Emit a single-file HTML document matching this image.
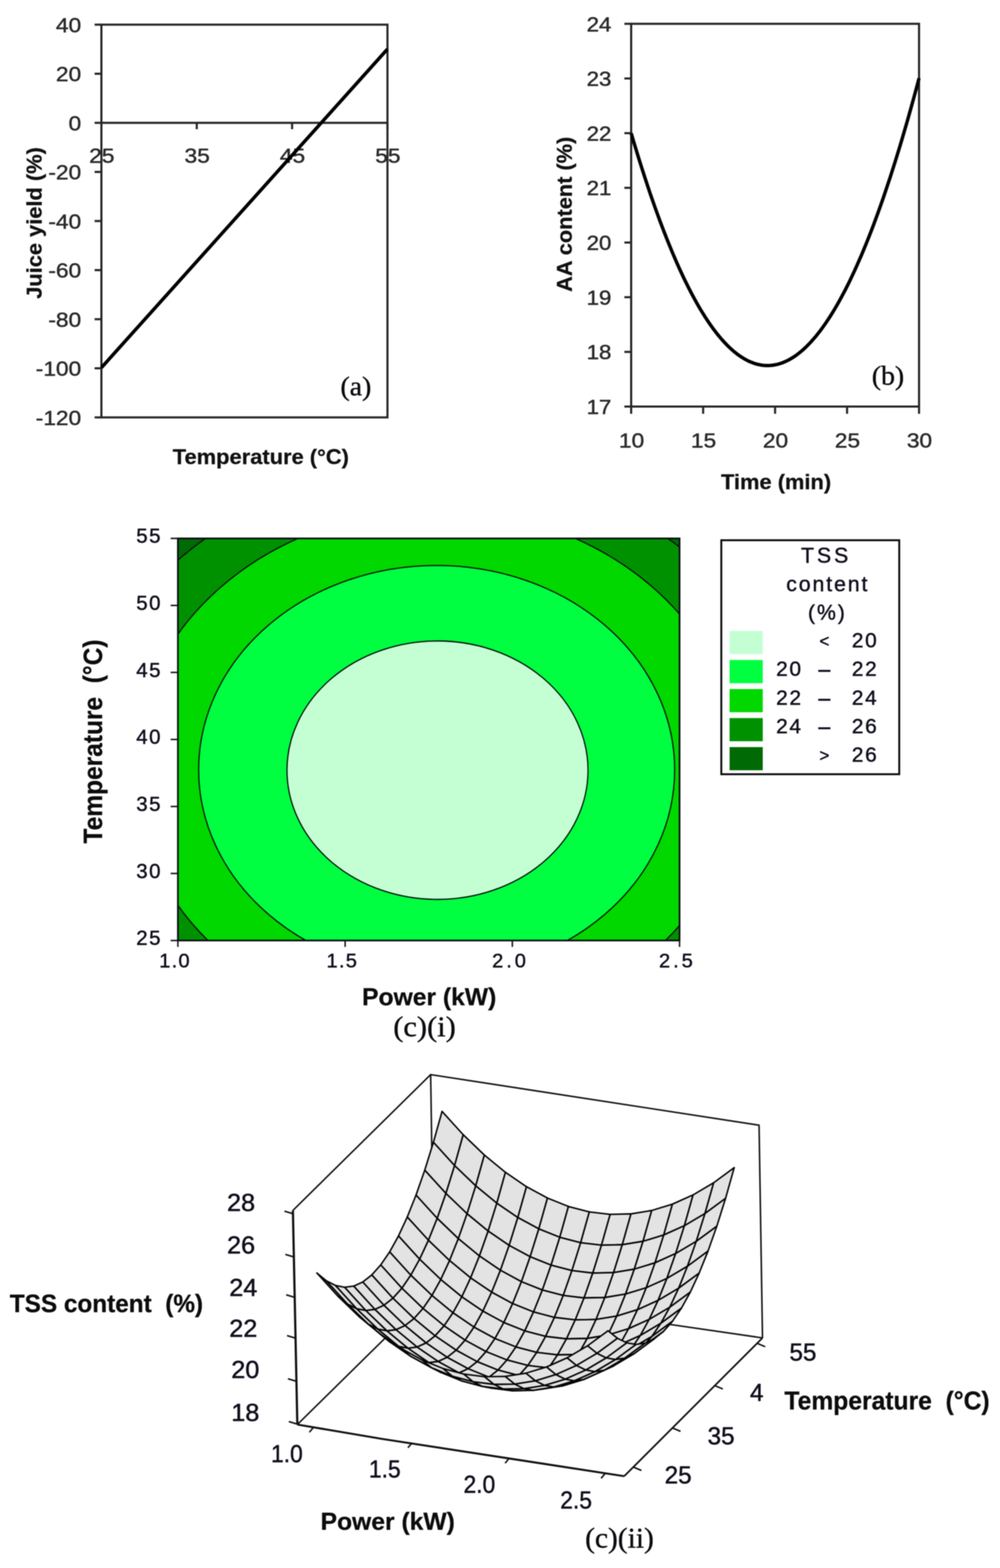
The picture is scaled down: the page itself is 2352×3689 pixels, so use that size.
<!DOCTYPE html>
<html lang="en">
<head>
<meta charset="utf-8">
<title>Figure</title>
<style>
html,body{margin:0;padding:0;background:#fff;}
body{width:2352px;height:3689px;}
svg{display:block;filter:blur(0.9px);}
text{white-space:pre;font-family:"Liberation Sans",sans-serif;}
text.sf{font-family:"Liberation Serif",serif;}
</style>
</head>
<body>
<svg width="2352" height="3689" viewBox="0 0 2352 3689">
<rect width="2352" height="3689" fill="#fff"/>
<rect x="238.5" y="58.0" width="672.8" height="924.0" fill="none" stroke="#262626" stroke-width="5"/>
<line x1="222.5" y1="58.0" x2="238.5" y2="58.0" stroke="#262626" stroke-width="5" stroke-linecap="butt"/>
<text x="0" y="0" font-size="49" text-anchor="end" fill="#2b2b2b" stroke="#2b2b2b" stroke-width="1.0" stroke-linejoin="round" transform="translate(191.0 75.5) scale(1.09 1)" xml:space="preserve" >40</text>
<line x1="222.5" y1="173.5" x2="238.5" y2="173.5" stroke="#262626" stroke-width="5" stroke-linecap="butt"/>
<text x="0" y="0" font-size="49" text-anchor="end" fill="#2b2b2b" stroke="#2b2b2b" stroke-width="1.0" stroke-linejoin="round" transform="translate(191.0 191.0) scale(1.09 1)" xml:space="preserve" >20</text>
<line x1="222.5" y1="289.0" x2="238.5" y2="289.0" stroke="#262626" stroke-width="5" stroke-linecap="butt"/>
<text x="0" y="0" font-size="49" text-anchor="end" fill="#2b2b2b" stroke="#2b2b2b" stroke-width="1.0" stroke-linejoin="round" transform="translate(191.0 306.5) scale(1.09 1)" xml:space="preserve" >0</text>
<line x1="222.5" y1="404.5" x2="238.5" y2="404.5" stroke="#262626" stroke-width="5" stroke-linecap="butt"/>
<text x="0" y="0" font-size="49" text-anchor="end" fill="#2b2b2b" stroke="#2b2b2b" stroke-width="1.0" stroke-linejoin="round" transform="translate(191.0 422.0) scale(1.09 1)" xml:space="preserve" >-20</text>
<line x1="222.5" y1="520.0" x2="238.5" y2="520.0" stroke="#262626" stroke-width="5" stroke-linecap="butt"/>
<text x="0" y="0" font-size="49" text-anchor="end" fill="#2b2b2b" stroke="#2b2b2b" stroke-width="1.0" stroke-linejoin="round" transform="translate(191.0 537.5) scale(1.09 1)" xml:space="preserve" >-40</text>
<line x1="222.5" y1="635.5" x2="238.5" y2="635.5" stroke="#262626" stroke-width="5" stroke-linecap="butt"/>
<text x="0" y="0" font-size="49" text-anchor="end" fill="#2b2b2b" stroke="#2b2b2b" stroke-width="1.0" stroke-linejoin="round" transform="translate(191.0 653.0) scale(1.09 1)" xml:space="preserve" >-60</text>
<line x1="222.5" y1="751.0" x2="238.5" y2="751.0" stroke="#262626" stroke-width="5" stroke-linecap="butt"/>
<text x="0" y="0" font-size="49" text-anchor="end" fill="#2b2b2b" stroke="#2b2b2b" stroke-width="1.0" stroke-linejoin="round" transform="translate(191.0 768.5) scale(1.09 1)" xml:space="preserve" >-80</text>
<line x1="222.5" y1="866.5" x2="238.5" y2="866.5" stroke="#262626" stroke-width="5" stroke-linecap="butt"/>
<text x="0" y="0" font-size="49" text-anchor="end" fill="#2b2b2b" stroke="#2b2b2b" stroke-width="1.0" stroke-linejoin="round" transform="translate(191.0 884.0) scale(1.09 1)" xml:space="preserve" >-100</text>
<line x1="222.5" y1="982.0" x2="238.5" y2="982.0" stroke="#262626" stroke-width="5" stroke-linecap="butt"/>
<text x="0" y="0" font-size="49" text-anchor="end" fill="#2b2b2b" stroke="#2b2b2b" stroke-width="1.0" stroke-linejoin="round" transform="translate(191.0 999.5) scale(1.09 1)" xml:space="preserve" >-120</text>
<line x1="238.5" y1="289.0" x2="911.3" y2="289.0" stroke="#262626" stroke-width="5" stroke-linecap="butt"/>
<line x1="238.5" y1="289.0" x2="238.5" y2="304.0" stroke="#262626" stroke-width="5" stroke-linecap="butt"/>
<text x="0" y="0" font-size="49" text-anchor="middle" fill="#2b2b2b" stroke="#2b2b2b" stroke-width="1.0" stroke-linejoin="round" transform="translate(239.5 383.0) scale(1.09 1)" xml:space="preserve" >25</text>
<line x1="462.8" y1="289.0" x2="462.8" y2="304.0" stroke="#262626" stroke-width="5" stroke-linecap="butt"/>
<text x="0" y="0" font-size="49" text-anchor="middle" fill="#2b2b2b" stroke="#2b2b2b" stroke-width="1.0" stroke-linejoin="round" transform="translate(463.8 383.0) scale(1.09 1)" xml:space="preserve" >35</text>
<line x1="687.0" y1="289.0" x2="687.0" y2="304.0" stroke="#262626" stroke-width="5" stroke-linecap="butt"/>
<text x="0" y="0" font-size="49" text-anchor="middle" fill="#2b2b2b" stroke="#2b2b2b" stroke-width="1.0" stroke-linejoin="round" transform="translate(688.0 383.0) scale(1.09 1)" xml:space="preserve" >45</text>
<line x1="911.3" y1="289.0" x2="911.3" y2="304.0" stroke="#262626" stroke-width="5" stroke-linecap="butt"/>
<text x="0" y="0" font-size="49" text-anchor="middle" fill="#2b2b2b" stroke="#2b2b2b" stroke-width="1.0" stroke-linejoin="round" transform="translate(912.3 383.0) scale(1.09 1)" xml:space="preserve" >55</text>
<line x1="238.5" y1="865" x2="911.3" y2="115.5" stroke="#000" stroke-width="8"/>
<text x="0" y="0" font-size="50" text-anchor="middle" fill="#111" font-weight="bold" stroke="#111" stroke-width="0.6" stroke-linejoin="round" transform="translate(98.0 524.6) rotate(-90) scale(1.028 1)" xml:space="preserve" >Juice yield (%)</text>
<text x="0" y="0" font-size="49.5" text-anchor="middle" fill="#111" font-weight="bold" stroke="#111" stroke-width="0.6" stroke-linejoin="round" transform="translate(613.5 1092.0) scale(1.04 1)" xml:space="preserve" >Temperature (°C)</text>
<text x="0" y="0" class="sf" font-size="63" text-anchor="middle" fill="#0c0c10" stroke="#0c0c10" stroke-width="0.9" stroke-linejoin="round" transform="translate(837.0 930.0) scale(1.04 1)" xml:space="preserve" >(a)</text>
<rect x="1484.5" y="56.0" width="677.1" height="900.5" fill="none" stroke="#262626" stroke-width="5"/>
<line x1="1468.5" y1="56.0" x2="1484.5" y2="56.0" stroke="#262626" stroke-width="5" stroke-linecap="butt"/>
<text x="0" y="0" font-size="49" text-anchor="end" fill="#2b2b2b" stroke="#2b2b2b" stroke-width="1.0" stroke-linejoin="round" transform="translate(1438.0 73.5) scale(1.07 1)" xml:space="preserve" >24</text>
<line x1="1468.5" y1="184.6" x2="1484.5" y2="184.6" stroke="#262626" stroke-width="5" stroke-linecap="butt"/>
<text x="0" y="0" font-size="49" text-anchor="end" fill="#2b2b2b" stroke="#2b2b2b" stroke-width="1.0" stroke-linejoin="round" transform="translate(1438.0 202.1) scale(1.07 1)" xml:space="preserve" >23</text>
<line x1="1468.5" y1="313.3" x2="1484.5" y2="313.3" stroke="#262626" stroke-width="5" stroke-linecap="butt"/>
<text x="0" y="0" font-size="49" text-anchor="end" fill="#2b2b2b" stroke="#2b2b2b" stroke-width="1.0" stroke-linejoin="round" transform="translate(1438.0 330.8) scale(1.07 1)" xml:space="preserve" >22</text>
<line x1="1468.5" y1="441.9" x2="1484.5" y2="441.9" stroke="#262626" stroke-width="5" stroke-linecap="butt"/>
<text x="0" y="0" font-size="49" text-anchor="end" fill="#2b2b2b" stroke="#2b2b2b" stroke-width="1.0" stroke-linejoin="round" transform="translate(1438.0 459.4) scale(1.07 1)" xml:space="preserve" >21</text>
<line x1="1468.5" y1="570.6" x2="1484.5" y2="570.6" stroke="#262626" stroke-width="5" stroke-linecap="butt"/>
<text x="0" y="0" font-size="49" text-anchor="end" fill="#2b2b2b" stroke="#2b2b2b" stroke-width="1.0" stroke-linejoin="round" transform="translate(1438.0 588.1) scale(1.07 1)" xml:space="preserve" >20</text>
<line x1="1468.5" y1="699.2" x2="1484.5" y2="699.2" stroke="#262626" stroke-width="5" stroke-linecap="butt"/>
<text x="0" y="0" font-size="49" text-anchor="end" fill="#2b2b2b" stroke="#2b2b2b" stroke-width="1.0" stroke-linejoin="round" transform="translate(1438.0 716.7) scale(1.07 1)" xml:space="preserve" >19</text>
<line x1="1468.5" y1="827.9" x2="1484.5" y2="827.9" stroke="#262626" stroke-width="5" stroke-linecap="butt"/>
<text x="0" y="0" font-size="49" text-anchor="end" fill="#2b2b2b" stroke="#2b2b2b" stroke-width="1.0" stroke-linejoin="round" transform="translate(1438.0 845.4) scale(1.07 1)" xml:space="preserve" >18</text>
<line x1="1468.5" y1="956.5" x2="1484.5" y2="956.5" stroke="#262626" stroke-width="5" stroke-linecap="butt"/>
<text x="0" y="0" font-size="49" text-anchor="end" fill="#2b2b2b" stroke="#2b2b2b" stroke-width="1.0" stroke-linejoin="round" transform="translate(1438.0 974.0) scale(1.07 1)" xml:space="preserve" >17</text>
<line x1="1484.5" y1="956.5" x2="1484.5" y2="973.5" stroke="#262626" stroke-width="5" stroke-linecap="butt"/>
<text x="0" y="0" font-size="49" text-anchor="middle" fill="#2b2b2b" stroke="#2b2b2b" stroke-width="1.0" stroke-linejoin="round" transform="translate(1485.5 1052.5) scale(1.09 1)" xml:space="preserve" >10</text>
<line x1="1653.8" y1="956.5" x2="1653.8" y2="973.5" stroke="#262626" stroke-width="5" stroke-linecap="butt"/>
<text x="0" y="0" font-size="49" text-anchor="middle" fill="#2b2b2b" stroke="#2b2b2b" stroke-width="1.0" stroke-linejoin="round" transform="translate(1654.8 1052.5) scale(1.09 1)" xml:space="preserve" >15</text>
<line x1="1823.0" y1="956.5" x2="1823.0" y2="973.5" stroke="#262626" stroke-width="5" stroke-linecap="butt"/>
<text x="0" y="0" font-size="49" text-anchor="middle" fill="#2b2b2b" stroke="#2b2b2b" stroke-width="1.0" stroke-linejoin="round" transform="translate(1824.0 1052.5) scale(1.09 1)" xml:space="preserve" >20</text>
<line x1="1992.3" y1="956.5" x2="1992.3" y2="973.5" stroke="#262626" stroke-width="5" stroke-linecap="butt"/>
<text x="0" y="0" font-size="49" text-anchor="middle" fill="#2b2b2b" stroke="#2b2b2b" stroke-width="1.0" stroke-linejoin="round" transform="translate(1993.3 1052.5) scale(1.09 1)" xml:space="preserve" >25</text>
<line x1="2161.6" y1="956.5" x2="2161.6" y2="973.5" stroke="#262626" stroke-width="5" stroke-linecap="butt"/>
<text x="0" y="0" font-size="49" text-anchor="middle" fill="#2b2b2b" stroke="#2b2b2b" stroke-width="1.0" stroke-linejoin="round" transform="translate(2162.6 1052.5) scale(1.09 1)" xml:space="preserve" >30</text>
<polyline points="1484.5,313.3 1490.1,332.4 1495.8,351.1 1501.4,369.5 1507.1,387.6 1512.7,405.3 1518.4,422.7 1524.0,439.7 1529.6,456.4 1535.3,472.8 1540.9,488.8 1546.6,504.5 1552.2,519.8 1557.9,534.8 1563.5,549.5 1569.1,563.8 1574.8,577.8 1580.4,591.5 1586.1,604.8 1591.7,617.8 1597.3,630.4 1603.0,642.7 1608.6,654.7 1614.3,666.3 1619.9,677.6 1625.6,688.6 1631.2,699.2 1636.8,709.4 1642.5,719.4 1648.1,729.0 1653.8,738.2 1659.4,747.1 1665.1,755.7 1670.7,763.9 1676.3,771.8 1682.0,779.4 1687.6,786.6 1693.3,793.5 1698.9,800.0 1704.6,806.2 1710.2,812.1 1715.8,817.6 1721.5,822.8 1727.1,827.7 1732.8,832.2 1738.4,836.4 1744.1,840.2 1749.7,843.7 1755.3,846.8 1761.0,849.7 1766.6,852.1 1772.3,854.3 1777.9,856.1 1783.6,857.5 1789.2,858.7 1794.8,859.5 1800.5,859.9 1806.1,860.0 1811.8,859.8 1817.4,859.2 1823.0,858.3 1828.7,857.1 1834.3,855.5 1840.0,853.6 1845.6,851.3 1851.3,848.7 1856.9,845.7 1862.5,842.5 1868.2,838.9 1873.8,834.9 1879.5,830.6 1885.1,826.0 1890.8,821.0 1896.4,815.7 1902.0,810.0 1907.7,804.0 1913.3,797.7 1919.0,791.1 1924.6,784.1 1930.3,776.7 1935.9,769.0 1941.5,761.0 1947.2,752.6 1952.8,744.0 1958.5,734.9 1964.1,725.5 1969.8,715.8 1975.4,705.8 1981.0,695.4 1986.7,684.7 1992.3,673.6 1998.0,662.2 2003.6,650.4 2009.3,638.3 2014.9,625.9 2020.5,613.2 2026.2,600.1 2031.8,586.6 2037.5,572.8 2043.1,558.7 2048.8,544.3 2054.4,529.5 2060.0,514.3 2065.7,498.9 2071.3,483.1 2077.0,466.9 2082.6,450.4 2088.2,433.6 2093.9,416.4 2099.5,398.9 2105.2,381.1 2110.8,362.9 2116.5,344.4 2122.1,325.5 2127.7,306.3 2133.4,286.8 2139.0,266.9 2144.7,246.7 2150.3,226.2 2156.0,205.3 2161.6,184.0" fill="none" stroke="#000" stroke-width="8" stroke-linejoin="round"/>
<text x="0" y="0" font-size="50" text-anchor="middle" fill="#111" font-weight="bold" stroke="#111" stroke-width="0.6" stroke-linejoin="round" transform="translate(1345.0 504.2) rotate(-90) scale(1.024 1)" xml:space="preserve" >AA content (%)</text>
<text x="0" y="0" font-size="49.5" text-anchor="middle" fill="#111" font-weight="bold" stroke="#111" stroke-width="0.6" stroke-linejoin="round" transform="translate(1825.3 1151.0) scale(1.04 1)" xml:space="preserve" >Time (min)</text>
<text x="0" y="0" class="sf" font-size="63.5" text-anchor="middle" fill="#0c0c10" stroke="#0c0c10" stroke-width="0.9" stroke-linejoin="round" transform="translate(2088.5 905.0) scale(1.03 1)" xml:space="preserve" >(b)</text>
<clipPath id="cp"><rect x="418.4" y="1266.7" width="1179.9" height="946.0"/></clipPath>
<rect x="418.4" y="1266.7" width="1179.9" height="946.0" fill="#006a04"/>
<g clip-path="url(#cp)">
<ellipse cx="1027.0" cy="1811.0" rx="845.0" ry="711.0" fill="#009100" stroke="#0a0a0a" stroke-width="2.8"/>
<ellipse cx="1027.0" cy="1811.0" rx="713.0" ry="612.0" fill="#00d800" stroke="#0a0a0a" stroke-width="2.8"/>
<ellipse cx="1027.0" cy="1811.0" rx="559.8" ry="480.6" fill="#00ff40" stroke="#0a0a0a" stroke-width="2.8"/>
<ellipse cx="1029.0" cy="1812.0" rx="354.0" ry="304.0" fill="#c4ffd4" stroke="#0a0a0a" stroke-width="2.8"/>
</g>
<rect x="418.4" y="1266.7" width="1179.9" height="946.0" fill="none" stroke="#0a0a14" stroke-width="4"/>
<line x1="401.4" y1="1266.7" x2="418.4" y2="1266.7" stroke="#15151f" stroke-width="3.5" stroke-linecap="butt"/>
<text x="381.0" y="1277.2" font-size="48" text-anchor="end" fill="#10101e" letter-spacing="3.5" stroke="#10101e" stroke-width="1.0" stroke-linejoin="round" xml:space="preserve" >55</text>
<line x1="401.4" y1="1424.4" x2="418.4" y2="1424.4" stroke="#15151f" stroke-width="3.5" stroke-linecap="butt"/>
<text x="381.0" y="1434.9" font-size="48" text-anchor="end" fill="#10101e" letter-spacing="3.5" stroke="#10101e" stroke-width="1.0" stroke-linejoin="round" xml:space="preserve" >50</text>
<line x1="401.4" y1="1582.0" x2="418.4" y2="1582.0" stroke="#15151f" stroke-width="3.5" stroke-linecap="butt"/>
<text x="381.0" y="1592.5" font-size="48" text-anchor="end" fill="#10101e" letter-spacing="3.5" stroke="#10101e" stroke-width="1.0" stroke-linejoin="round" xml:space="preserve" >45</text>
<line x1="401.4" y1="1739.7" x2="418.4" y2="1739.7" stroke="#15151f" stroke-width="3.5" stroke-linecap="butt"/>
<text x="381.0" y="1750.2" font-size="48" text-anchor="end" fill="#10101e" letter-spacing="3.5" stroke="#10101e" stroke-width="1.0" stroke-linejoin="round" xml:space="preserve" >40</text>
<line x1="401.4" y1="1897.4" x2="418.4" y2="1897.4" stroke="#15151f" stroke-width="3.5" stroke-linecap="butt"/>
<text x="381.0" y="1907.9" font-size="48" text-anchor="end" fill="#10101e" letter-spacing="3.5" stroke="#10101e" stroke-width="1.0" stroke-linejoin="round" xml:space="preserve" >35</text>
<line x1="401.4" y1="2055.0" x2="418.4" y2="2055.0" stroke="#15151f" stroke-width="3.5" stroke-linecap="butt"/>
<text x="381.0" y="2065.5" font-size="48" text-anchor="end" fill="#10101e" letter-spacing="3.5" stroke="#10101e" stroke-width="1.0" stroke-linejoin="round" xml:space="preserve" >30</text>
<line x1="401.4" y1="2212.7" x2="418.4" y2="2212.7" stroke="#15151f" stroke-width="3.5" stroke-linecap="butt"/>
<text x="381.0" y="2223.2" font-size="48" text-anchor="end" fill="#10101e" letter-spacing="3.5" stroke="#10101e" stroke-width="1.0" stroke-linejoin="round" xml:space="preserve" >25</text>
<line x1="418.4" y1="2212.7" x2="418.4" y2="2227.7" stroke="#15151f" stroke-width="3.5" stroke-linecap="butt"/>
<text x="374.5" y="2276.0" font-size="47" text-anchor="start" fill="#10101e" letter-spacing="3" stroke="#10101e" stroke-width="1.0" stroke-linejoin="round" xml:space="preserve" >1.0</text>
<line x1="811.7" y1="2212.7" x2="811.7" y2="2227.7" stroke="#15151f" stroke-width="3.5" stroke-linecap="butt"/>
<text x="768.0" y="2276.0" font-size="47" text-anchor="start" fill="#10101e" letter-spacing="3" stroke="#10101e" stroke-width="1.0" stroke-linejoin="round" xml:space="preserve" >1.5</text>
<line x1="1205.0" y1="2212.7" x2="1205.0" y2="2227.7" stroke="#15151f" stroke-width="3.5" stroke-linecap="butt"/>
<text x="1157.5" y="2276.0" font-size="47" text-anchor="start" fill="#10101e" letter-spacing="7" stroke="#10101e" stroke-width="1.0" stroke-linejoin="round" xml:space="preserve" >2.0</text>
<line x1="1598.3" y1="2212.7" x2="1598.3" y2="2227.7" stroke="#15151f" stroke-width="3.5" stroke-linecap="butt"/>
<text x="1550.0" y="2276.0" font-size="47" text-anchor="start" fill="#10101e" letter-spacing="7" stroke="#10101e" stroke-width="1.0" stroke-linejoin="round" xml:space="preserve" >2.5</text>
<text x="0" y="0" font-size="63" text-anchor="middle" fill="#0c0c0c" font-weight="bold" stroke="#0c0c0c" stroke-width="0.6" stroke-linejoin="round" transform="translate(239.5 1744.5) rotate(-90) scale(0.915 1)" xml:space="preserve" >Temperature  (°C)</text>
<text x="1009.5" y="2365.0" font-size="58" text-anchor="middle" fill="#0c0c0c" font-weight="bold" stroke="#0c0c0c" stroke-width="0.6" stroke-linejoin="round" xml:space="preserve" >Power (kW)</text>
<text x="0" y="0" class="sf" font-size="68.5" text-anchor="middle" fill="#0c0c10" stroke="#0c0c10" stroke-width="0.9" stroke-linejoin="round" transform="translate(998.5 2438.0) scale(1.045 1)" xml:space="preserve" >(c)(i)</text>
<rect x="1696.5" y="1271" width="418.5" height="550.5" fill="#fff" stroke="#0a0a0a" stroke-width="4.5"/>
<rect x="1716" y="1484.5" width="78" height="54.5" fill="#c4ffd4"/>
<rect x="1716" y="1552.8" width="78" height="54.5" fill="#00ff40"/>
<rect x="1716" y="1621.1" width="78" height="54.5" fill="#00d800"/>
<rect x="1716" y="1689.4" width="78" height="54.5" fill="#009100"/>
<rect x="1716" y="1757.7" width="78" height="54.5" fill="#006a04"/>
<text x="1943.0" y="1324.0" font-size="50" text-anchor="middle" fill="#10101e" letter-spacing="7" stroke="#10101e" stroke-width="1.0" stroke-linejoin="round" xml:space="preserve" >TSS</text>
<text x="1947.0" y="1390.5" font-size="50" text-anchor="middle" fill="#10101e" letter-spacing="4.5" stroke="#10101e" stroke-width="1.0" stroke-linejoin="round" xml:space="preserve" >content</text>
<text x="1946.0" y="1458.0" font-size="50" text-anchor="middle" fill="#10101e" letter-spacing="4.5" stroke="#10101e" stroke-width="1.0" stroke-linejoin="round" xml:space="preserve" >(%)</text>
<text x="1939.0" y="1522.0" font-size="40" text-anchor="middle" fill="#10101e" stroke="#10101e" stroke-width="1.0" stroke-linejoin="round" xml:space="preserve" >&lt;</text>
<text x="2066.0" y="1523.0" font-size="49" text-anchor="end" fill="#10101e" letter-spacing="4" stroke="#10101e" stroke-width="1.0" stroke-linejoin="round" xml:space="preserve" >20</text>
<text x="1888.0" y="1590.3" font-size="49" text-anchor="end" fill="#10101e" letter-spacing="4" stroke="#10101e" stroke-width="1.0" stroke-linejoin="round" xml:space="preserve" >20</text>
<text x="1939.0" y="1591.3" font-size="49" text-anchor="middle" fill="#10101e" stroke="#10101e" stroke-width="1.6" stroke-linejoin="round" xml:space="preserve" >–</text>
<text x="2066.0" y="1590.3" font-size="49" text-anchor="end" fill="#10101e" letter-spacing="4" stroke="#10101e" stroke-width="1.0" stroke-linejoin="round" xml:space="preserve" >22</text>
<text x="1888.0" y="1657.6" font-size="49" text-anchor="end" fill="#10101e" letter-spacing="4" stroke="#10101e" stroke-width="1.0" stroke-linejoin="round" xml:space="preserve" >22</text>
<text x="1939.0" y="1658.6" font-size="49" text-anchor="middle" fill="#10101e" stroke="#10101e" stroke-width="1.6" stroke-linejoin="round" xml:space="preserve" >–</text>
<text x="2066.0" y="1657.6" font-size="49" text-anchor="end" fill="#10101e" letter-spacing="4" stroke="#10101e" stroke-width="1.0" stroke-linejoin="round" xml:space="preserve" >24</text>
<text x="1888.0" y="1724.9" font-size="49" text-anchor="end" fill="#10101e" letter-spacing="4" stroke="#10101e" stroke-width="1.0" stroke-linejoin="round" xml:space="preserve" >24</text>
<text x="1939.0" y="1725.9" font-size="49" text-anchor="middle" fill="#10101e" stroke="#10101e" stroke-width="1.6" stroke-linejoin="round" xml:space="preserve" >–</text>
<text x="2066.0" y="1724.9" font-size="49" text-anchor="end" fill="#10101e" letter-spacing="4" stroke="#10101e" stroke-width="1.0" stroke-linejoin="round" xml:space="preserve" >26</text>
<text x="1939.0" y="1791.2" font-size="40" text-anchor="middle" fill="#10101e" stroke="#10101e" stroke-width="1.0" stroke-linejoin="round" xml:space="preserve" >&gt;</text>
<text x="2066.0" y="1792.2" font-size="49" text-anchor="end" fill="#10101e" letter-spacing="4" stroke="#10101e" stroke-width="1.0" stroke-linejoin="round" xml:space="preserve" >26</text>
<polyline points="699.3,3351.5 1020.7,3035.0 1793.4,3147.7" fill="none" stroke="#111" stroke-width="3.6" stroke-linejoin="miter"/>
<polyline points="1020.7,3035.0 1012.9,2528.2" fill="none" stroke="#111" stroke-width="3.6" stroke-linejoin="miter"/>
<polyline points="688.9,2847.7 1012.9,2528.2 1785.3,2647.2 1793.4,3147.7" fill="none" stroke="#111" stroke-width="3.6" stroke-linejoin="miter"/>
<polyline points="1468.1,3473.0 1793.4,3147.7" fill="none" stroke="#111" stroke-width="4.0" stroke-linejoin="miter"/>
<polyline points="699.3,3351.5 900.0,3385.5 1468.1,3473.0" fill="none" stroke="#111" stroke-width="4.8" stroke-linejoin="miter"/>
<polyline points="688.9,2847.7 699.3,3351.5" fill="none" stroke="#111" stroke-width="5.2" stroke-linejoin="miter"/>
<polyline points="669.1,2849.5 689.1,2855.5" fill="none" stroke="#111" stroke-width="3.6" stroke-linejoin="miter"/>
<polyline points="671.2,2951.2 691.2,2957.2" fill="none" stroke="#111" stroke-width="3.6" stroke-linejoin="miter"/>
<polyline points="673.1,3046.3 693.1,3052.3" fill="none" stroke="#111" stroke-width="3.6" stroke-linejoin="miter"/>
<polyline points="675.1,3142.2 695.1,3148.2" fill="none" stroke="#111" stroke-width="3.6" stroke-linejoin="miter"/>
<polyline points="677.2,3243.8 697.2,3249.8" fill="none" stroke="#111" stroke-width="3.6" stroke-linejoin="miter"/>
<polyline points="679.3,3344.5 699.3,3350.5" fill="none" stroke="#111" stroke-width="3.6" stroke-linejoin="miter"/>
<polyline points="737.7,3357.6 727.7,3369.6" fill="none" stroke="#111" stroke-width="3.6" stroke-linejoin="miter"/>
<polyline points="969.4,3394.2 959.4,3406.2" fill="none" stroke="#111" stroke-width="3.6" stroke-linejoin="miter"/>
<polyline points="1198.0,3430.3 1188.0,3442.3" fill="none" stroke="#111" stroke-width="3.6" stroke-linejoin="miter"/>
<polyline points="1423.8,3466.0 1413.8,3478.0" fill="none" stroke="#111" stroke-width="3.6" stroke-linejoin="miter"/>
<polyline points="1489.6,3451.5 1508.6,3459.5" fill="none" stroke="#111" stroke-width="3.6" stroke-linejoin="miter"/>
<polyline points="1581.6,3359.5 1600.6,3367.5" fill="none" stroke="#111" stroke-width="3.6" stroke-linejoin="miter"/>
<polyline points="1681.2,3259.9 1700.2,3267.9" fill="none" stroke="#111" stroke-width="3.6" stroke-linejoin="miter"/>
<polyline points="1780.7,3160.4 1799.7,3168.4" fill="none" stroke="#111" stroke-width="3.6" stroke-linejoin="miter"/>
<g fill="#e3e3e3" stroke="#050505" stroke-width="3.6" stroke-linejoin="round">
<polygon points="1019.4,2687.4 1069.2,2742.2 1089.5,2669.6 1039.7,2614.7"/>
<polygon points="1069.2,2742.2 1118.9,2789.9 1139.2,2717.4 1089.5,2669.6"/>
<polygon points="1118.9,2789.9 1168.5,2830.7 1188.8,2758.1 1139.2,2717.4"/>
<polygon points="1168.5,2830.7 1217.9,2864.4 1238.3,2791.9 1188.8,2758.1"/>
<polygon points="1217.9,2864.4 1267.3,2891.1 1287.7,2818.6 1238.3,2791.9"/>
<polygon points="1267.3,2891.1 1316.6,2910.9 1336.9,2838.4 1287.7,2818.6"/>
<polygon points="1316.6,2910.9 1365.7,2923.7 1386.1,2851.2 1336.9,2838.4"/>
<polygon points="1365.7,2923.7 1414.7,2929.5 1435.1,2857.0 1386.1,2851.2"/>
<polygon points="1414.7,2929.5 1463.6,2928.4 1484.0,2855.9 1435.1,2857.0"/>
<polygon points="1463.6,2928.4 1512.4,2920.4 1532.8,2847.9 1484.0,2855.9"/>
<polygon points="1512.4,2920.4 1561.1,2905.5 1581.5,2833.0 1532.8,2847.9"/>
<polygon points="1561.1,2905.5 1609.7,2883.7 1630.1,2811.2 1581.5,2833.0"/>
<polygon points="1609.7,2883.7 1658.1,2855.0 1678.6,2782.6 1630.1,2811.2"/>
<polygon points="1658.1,2855.0 1706.5,2819.4 1726.9,2747.0 1678.6,2782.6"/>
<polygon points="999.0,2753.0 1048.8,2807.8 1069.2,2742.2 1019.4,2687.4"/>
<polygon points="1048.8,2807.8 1098.5,2855.5 1118.9,2789.9 1069.2,2742.2"/>
<polygon points="1098.5,2855.5 1148.1,2896.3 1168.5,2830.7 1118.9,2789.9"/>
<polygon points="1148.1,2896.3 1197.5,2930.0 1217.9,2864.4 1168.5,2830.7"/>
<polygon points="1197.5,2930.0 1246.9,2956.7 1267.3,2891.1 1217.9,2864.4"/>
<polygon points="1246.9,2956.7 1296.1,2976.4 1316.6,2910.9 1267.3,2891.1"/>
<polygon points="1296.1,2976.4 1345.2,2989.2 1365.7,2923.7 1316.6,2910.9"/>
<polygon points="1345.2,2989.2 1394.2,2995.1 1414.7,2929.5 1365.7,2923.7"/>
<polygon points="1394.2,2995.1 1443.1,2994.0 1463.6,2928.4 1414.7,2929.5"/>
<polygon points="1443.1,2994.0 1491.9,2985.9 1512.4,2920.4 1463.6,2928.4"/>
<polygon points="1491.9,2985.9 1540.6,2971.0 1561.1,2905.5 1512.4,2920.4"/>
<polygon points="1540.6,2971.0 1589.1,2949.2 1609.7,2883.7 1561.1,2905.5"/>
<polygon points="1589.1,2949.2 1637.6,2920.5 1658.1,2855.0 1609.7,2883.7"/>
<polygon points="1637.6,2920.5 1685.9,2885.0 1706.5,2819.4 1658.1,2855.0"/>
<polygon points="978.5,2811.6 1028.3,2866.4 1048.8,2807.8 999.0,2753.0"/>
<polygon points="1028.3,2866.4 1078.0,2914.1 1098.5,2855.5 1048.8,2807.8"/>
<polygon points="1078.0,2914.1 1127.6,2954.8 1148.1,2896.3 1098.5,2855.5"/>
<polygon points="1127.6,2954.8 1177.0,2988.5 1197.5,2930.0 1148.1,2896.3"/>
<polygon points="1177.0,2988.5 1226.4,3015.3 1246.9,2956.7 1197.5,2930.0"/>
<polygon points="1226.4,3015.3 1275.6,3035.0 1296.1,2976.4 1246.9,2956.7"/>
<polygon points="1275.6,3035.0 1324.7,3047.8 1345.2,2989.2 1296.1,2976.4"/>
<polygon points="1324.7,3047.8 1373.7,3053.6 1394.2,2995.1 1345.2,2989.2"/>
<polygon points="1373.7,3053.6 1422.6,3052.6 1443.1,2994.0 1394.2,2995.1"/>
<polygon points="1422.6,3052.6 1471.3,3044.5 1491.9,2985.9 1443.1,2994.0"/>
<polygon points="1471.3,3044.5 1520.0,3029.6 1540.6,2971.0 1491.9,2985.9"/>
<polygon points="1520.0,3029.6 1568.5,3007.8 1589.1,2949.2 1540.6,2971.0"/>
<polygon points="1568.5,3007.8 1616.9,2979.1 1637.6,2920.5 1589.1,2949.2"/>
<polygon points="1616.9,2979.1 1665.2,2943.5 1685.9,2885.0 1637.6,2920.5"/>
<polygon points="957.9,2863.2 1007.7,2917.9 1028.3,2866.4 978.5,2811.6"/>
<polygon points="1007.7,2917.9 1057.4,2965.7 1078.0,2914.1 1028.3,2866.4"/>
<polygon points="1057.4,2965.7 1106.9,3006.4 1127.6,2954.8 1078.0,2914.1"/>
<polygon points="1106.9,3006.4 1156.4,3040.1 1177.0,2988.5 1127.6,2954.8"/>
<polygon points="1156.4,3040.1 1205.7,3066.9 1226.4,3015.3 1177.0,2988.5"/>
<polygon points="1205.7,3066.9 1254.9,3086.6 1275.6,3035.0 1226.4,3015.3"/>
<polygon points="1254.9,3086.6 1304.0,3099.4 1324.7,3047.8 1275.6,3035.0"/>
<polygon points="1304.0,3099.4 1353.0,3105.3 1373.7,3053.6 1324.7,3047.8"/>
<polygon points="1353.0,3105.3 1401.9,3104.2 1422.6,3052.6 1373.7,3053.6"/>
<polygon points="1401.9,3104.2 1450.6,3096.2 1471.3,3044.5 1422.6,3052.6"/>
<polygon points="1450.6,3096.2 1499.3,3081.3 1520.0,3029.6 1471.3,3044.5"/>
<polygon points="1499.3,3081.3 1547.8,3059.5 1568.5,3007.8 1520.0,3029.6"/>
<polygon points="1547.8,3059.5 1596.2,3030.8 1616.9,2979.1 1568.5,3007.8"/>
<polygon points="1596.2,3030.8 1644.4,2995.2 1665.2,2943.5 1616.9,2979.1"/>
<polygon points="937.2,2907.8 987.0,2962.5 1007.7,2917.9 957.9,2863.2"/>
<polygon points="987.0,2962.5 1036.7,3010.3 1057.4,2965.7 1007.7,2917.9"/>
<polygon points="1036.7,3010.3 1086.2,3051.0 1106.9,3006.4 1057.4,2965.7"/>
<polygon points="1086.2,3051.0 1135.7,3084.7 1156.4,3040.1 1106.9,3006.4"/>
<polygon points="1135.7,3084.7 1185.0,3111.5 1205.7,3066.9 1156.4,3040.1"/>
<polygon points="1185.0,3111.5 1234.2,3131.2 1254.9,3086.6 1205.7,3066.9"/>
<polygon points="1234.2,3131.2 1283.3,3144.1 1304.0,3099.4 1254.9,3086.6"/>
<polygon points="1283.3,3144.1 1332.3,3149.9 1353.0,3105.3 1304.0,3099.4"/>
<polygon points="1332.3,3149.9 1381.1,3148.9 1401.9,3104.2 1353.0,3105.3"/>
<polygon points="1381.1,3148.9 1429.8,3140.9 1450.6,3096.2 1401.9,3104.2"/>
<polygon points="1429.8,3140.9 1478.4,3126.0 1499.3,3081.3 1450.6,3096.2"/>
<polygon points="1478.4,3126.0 1526.9,3104.2 1547.8,3059.5 1499.3,3081.3"/>
<polygon points="1526.9,3104.2 1575.3,3075.5 1596.2,3030.8 1547.8,3059.5"/>
<polygon points="1575.3,3075.5 1623.6,3040.0 1644.4,2995.2 1596.2,3030.8"/>
<polygon points="916.4,2945.3 966.2,3000.1 987.0,2962.5 937.2,2907.8"/>
<polygon points="966.2,3000.1 1015.9,3047.8 1036.7,3010.3 987.0,2962.5"/>
<polygon points="1015.9,3047.8 1065.4,3088.6 1086.2,3051.0 1036.7,3010.3"/>
<polygon points="1065.4,3088.6 1114.9,3122.3 1135.7,3084.7 1086.2,3051.0"/>
<polygon points="1114.9,3122.3 1164.2,3149.1 1185.0,3111.5 1135.7,3084.7"/>
<polygon points="1164.2,3149.1 1213.4,3168.9 1234.2,3131.2 1185.0,3111.5"/>
<polygon points="1213.4,3168.9 1262.4,3181.7 1283.3,3144.1 1234.2,3131.2"/>
<polygon points="1262.4,3181.7 1311.4,3187.6 1332.3,3149.9 1283.3,3144.1"/>
<polygon points="1311.4,3187.6 1360.2,3186.6 1381.1,3148.9 1332.3,3149.9"/>
<polygon points="1360.2,3186.6 1408.9,3178.6 1429.8,3140.9 1381.1,3148.9"/>
<polygon points="1408.9,3178.6 1457.5,3163.8 1478.4,3126.0 1429.8,3140.9"/>
<polygon points="1457.5,3163.8 1506.0,3142.0 1526.9,3104.2 1478.4,3126.0"/>
<polygon points="1506.0,3142.0 1554.3,3113.3 1575.3,3075.5 1526.9,3104.2"/>
<polygon points="1554.3,3113.3 1602.6,3077.8 1623.6,3040.0 1575.3,3075.5"/>
<polygon points="895.4,2975.9 945.3,3030.7 966.2,3000.1 916.4,2945.3"/>
<polygon points="945.3,3030.7 994.9,3078.4 1015.9,3047.8 966.2,3000.1"/>
<polygon points="994.9,3078.4 1044.5,3119.2 1065.4,3088.6 1015.9,3047.8"/>
<polygon points="1044.5,3119.2 1093.9,3153.0 1114.9,3122.3 1065.4,3088.6"/>
<polygon points="1093.9,3153.0 1143.2,3179.8 1164.2,3149.1 1114.9,3122.3"/>
<polygon points="1143.2,3179.8 1192.4,3199.6 1213.4,3168.9 1164.2,3149.1"/>
<polygon points="1192.4,3199.6 1241.5,3212.5 1262.4,3181.7 1213.4,3168.9"/>
<polygon points="1241.5,3212.5 1290.4,3218.4 1311.4,3187.6 1262.4,3181.7"/>
<polygon points="1290.4,3218.4 1339.2,3217.4 1360.2,3186.6 1311.4,3187.6"/>
<polygon points="1339.2,3217.4 1387.9,3209.5 1408.9,3178.6 1360.2,3186.6"/>
<polygon points="1387.9,3209.5 1436.4,3194.6 1457.5,3163.8 1408.9,3178.6"/>
<polygon points="1436.4,3194.6 1484.9,3172.9 1506.0,3142.0 1457.5,3163.8"/>
<polygon points="1484.9,3172.9 1533.2,3144.2 1554.3,3113.3 1506.0,3142.0"/>
<polygon points="1533.2,3144.2 1581.5,3108.7 1602.6,3077.8 1554.3,3113.3"/>
<polygon points="874.4,2999.5 924.2,3054.3 945.3,3030.7 895.4,2975.9"/>
<polygon points="924.2,3054.3 973.9,3102.1 994.9,3078.4 945.3,3030.7"/>
<polygon points="973.9,3102.1 1023.4,3142.8 1044.5,3119.2 994.9,3078.4"/>
<polygon points="1023.4,3142.8 1072.9,3176.6 1093.9,3153.0 1044.5,3119.2"/>
<polygon points="1072.9,3176.6 1122.2,3203.5 1143.2,3179.8 1093.9,3153.0"/>
<polygon points="1122.2,3203.5 1171.3,3223.3 1192.4,3199.6 1143.2,3179.8"/>
<polygon points="1171.3,3223.3 1220.4,3236.2 1241.5,3212.5 1192.4,3199.6"/>
<polygon points="1220.4,3236.2 1269.3,3242.2 1290.4,3218.4 1241.5,3212.5"/>
<polygon points="1269.3,3242.2 1318.1,3241.2 1339.2,3217.4 1290.4,3218.4"/>
<polygon points="1318.1,3241.2 1366.7,3233.3 1387.9,3209.5 1339.2,3217.4"/>
<polygon points="1366.7,3233.3 1415.3,3218.5 1436.4,3194.6 1387.9,3209.5"/>
<polygon points="1415.3,3218.5 1463.7,3196.8 1484.9,3172.9 1436.4,3194.6"/>
<polygon points="1463.7,3196.8 1512.0,3168.2 1533.2,3144.2 1484.9,3172.9"/>
<polygon points="1512.0,3168.2 1560.2,3132.7 1581.5,3108.7 1533.2,3144.2"/>
<polygon points="853.2,3016.1 903.0,3070.9 924.2,3054.3 874.4,2999.5"/>
<polygon points="903.0,3070.9 952.7,3118.7 973.9,3102.1 924.2,3054.3"/>
<polygon points="952.7,3118.7 1002.3,3159.5 1023.4,3142.8 973.9,3102.1"/>
<polygon points="1002.3,3159.5 1051.7,3193.3 1072.9,3176.6 1023.4,3142.8"/>
<polygon points="1051.7,3193.3 1101.0,3220.2 1122.2,3203.5 1072.9,3176.6"/>
<polygon points="1101.0,3220.2 1150.1,3240.1 1171.3,3223.3 1122.2,3203.5"/>
<polygon points="1150.1,3240.1 1199.1,3253.0 1220.4,3236.2 1171.3,3223.3"/>
<polygon points="1199.1,3253.0 1248.0,3259.0 1269.3,3242.2 1220.4,3236.2"/>
<polygon points="1248.0,3259.0 1296.8,3258.1 1318.1,3241.2 1269.3,3242.2"/>
<polygon points="1296.8,3258.1 1345.5,3250.2 1366.7,3233.3 1318.1,3241.2"/>
<polygon points="1345.5,3250.2 1394.0,3235.5 1415.3,3218.5 1366.7,3233.3"/>
<polygon points="1394.0,3235.5 1442.4,3213.8 1463.7,3196.8 1415.3,3218.5"/>
<polygon points="1442.4,3213.8 1490.7,3185.2 1512.0,3168.2 1463.7,3196.8"/>
<polygon points="1490.7,3185.2 1538.9,3149.7 1560.2,3132.7 1512.0,3168.2"/>
<polygon points="831.9,3025.8 881.7,3080.6 903.0,3070.9 853.2,3016.1"/>
<polygon points="881.7,3080.6 931.4,3128.4 952.7,3118.7 903.0,3070.9"/>
<polygon points="931.4,3128.4 981.0,3169.2 1002.3,3159.5 952.7,3118.7"/>
<polygon points="981.0,3169.2 1030.4,3203.1 1051.7,3193.3 1002.3,3159.5"/>
<polygon points="1030.4,3203.1 1079.6,3230.0 1101.0,3220.2 1051.7,3193.3"/>
<polygon points="1079.6,3230.0 1128.8,3249.9 1150.1,3240.1 1101.0,3220.2"/>
<polygon points="1128.8,3249.9 1177.8,3262.9 1199.1,3253.0 1150.1,3240.1"/>
<polygon points="1177.8,3262.9 1226.7,3268.9 1248.0,3259.0 1199.1,3253.0"/>
<polygon points="1226.7,3268.9 1275.4,3268.0 1296.8,3258.1 1248.0,3259.0"/>
<polygon points="1275.4,3268.0 1324.1,3260.2 1345.5,3250.2 1296.8,3258.1"/>
<polygon points="1324.1,3260.2 1372.6,3245.5 1394.0,3235.5 1345.5,3250.2"/>
<polygon points="1372.6,3245.5 1421.0,3223.8 1442.4,3213.8 1394.0,3235.5"/>
<polygon points="1421.0,3223.8 1469.2,3195.3 1490.7,3185.2 1442.4,3213.8"/>
<polygon points="1469.2,3195.3 1517.4,3159.8 1538.9,3149.7 1490.7,3185.2"/>
<polygon points="810.5,3028.5 860.3,3083.3 881.7,3080.6 831.9,3025.8"/>
<polygon points="860.3,3083.3 910.0,3131.1 931.4,3128.4 881.7,3080.6"/>
<polygon points="910.0,3131.1 959.5,3172.0 981.0,3169.2 931.4,3128.4"/>
<polygon points="959.5,3172.0 1008.9,3205.9 1030.4,3203.1 981.0,3169.2"/>
<polygon points="1008.9,3205.9 1058.2,3232.8 1079.6,3230.0 1030.4,3203.1"/>
<polygon points="1058.2,3232.8 1107.3,3252.8 1128.8,3249.9 1079.6,3230.0"/>
<polygon points="1107.3,3252.8 1156.3,3265.8 1177.8,3262.9 1128.8,3249.9"/>
<polygon points="1156.3,3265.8 1205.2,3271.9 1226.7,3268.9 1177.8,3262.9"/>
<polygon points="1205.2,3271.9 1253.9,3271.0 1275.4,3268.0 1226.7,3268.9"/>
<polygon points="1253.9,3271.0 1302.5,3263.2 1324.1,3260.2 1275.4,3268.0"/>
<polygon points="1302.5,3263.2 1351.0,3248.5 1372.6,3245.5 1324.1,3260.2"/>
<polygon points="1351.0,3248.5 1399.4,3226.9 1421.0,3223.8 1372.6,3245.5"/>
<polygon points="1399.4,3226.9 1447.6,3198.4 1469.2,3195.3 1421.0,3223.8"/>
<polygon points="1447.6,3198.4 1495.8,3163.0 1517.4,3159.8 1469.2,3195.3"/>
<polygon points="788.9,3024.2 838.7,3079.0 860.3,3083.3 810.5,3028.5"/>
<polygon points="838.7,3079.0 888.4,3126.9 910.0,3131.1 860.3,3083.3"/>
<polygon points="888.4,3126.9 937.9,3167.8 959.5,3172.0 910.0,3131.1"/>
<polygon points="937.9,3167.8 987.3,3201.7 1008.9,3205.9 959.5,3172.0"/>
<polygon points="987.3,3201.7 1036.6,3228.7 1058.2,3232.8 1008.9,3205.9"/>
<polygon points="1036.6,3228.7 1085.7,3248.7 1107.3,3252.8 1058.2,3232.8"/>
<polygon points="1085.7,3248.7 1134.7,3261.8 1156.3,3265.8 1107.3,3252.8"/>
<polygon points="1134.7,3261.8 1183.5,3267.9 1205.2,3271.9 1156.3,3265.8"/>
<polygon points="1183.5,3267.9 1232.3,3267.1 1253.9,3271.0 1205.2,3271.9"/>
<polygon points="1232.3,3267.1 1280.9,3259.3 1302.5,3263.2 1253.9,3271.0"/>
<polygon points="1280.9,3259.3 1329.3,3244.7 1351.0,3248.5 1302.5,3263.2"/>
<polygon points="1329.3,3244.7 1377.7,3223.1 1399.4,3226.9 1351.0,3248.5"/>
<polygon points="1377.7,3223.1 1425.9,3194.6 1447.6,3198.4 1399.4,3226.9"/>
<polygon points="1425.9,3194.6 1474.0,3159.2 1495.8,3163.0 1447.6,3198.4"/>
<polygon points="767.1,3013.0 817.0,3067.8 838.7,3079.0 788.9,3024.2"/>
<polygon points="817.0,3067.8 866.6,3115.7 888.4,3126.9 838.7,3079.0"/>
<polygon points="866.6,3115.7 916.2,3156.6 937.9,3167.8 888.4,3126.9"/>
<polygon points="916.2,3156.6 965.6,3190.6 987.3,3201.7 937.9,3167.8"/>
<polygon points="965.6,3190.6 1014.8,3217.6 1036.6,3228.7 987.3,3201.7"/>
<polygon points="1014.8,3217.6 1063.9,3237.7 1085.7,3248.7 1036.6,3228.7"/>
<polygon points="1063.9,3237.7 1112.9,3250.8 1134.7,3261.8 1085.7,3248.7"/>
<polygon points="1112.9,3250.8 1161.8,3256.9 1183.5,3267.9 1134.7,3261.8"/>
<polygon points="1161.8,3256.9 1210.5,3256.2 1232.3,3267.1 1183.5,3267.9"/>
<polygon points="1210.5,3256.2 1259.1,3248.5 1280.9,3259.3 1232.3,3267.1"/>
<polygon points="1259.1,3248.5 1307.5,3233.8 1329.3,3244.7 1280.9,3259.3"/>
<polygon points="1307.5,3233.8 1355.9,3212.3 1377.7,3223.1 1329.3,3244.7"/>
<polygon points="1355.9,3212.3 1404.1,3183.8 1425.9,3194.6 1377.7,3223.1"/>
<polygon points="1404.1,3183.8 1452.2,3148.5 1474.0,3159.2 1425.9,3194.6"/>
<polygon points="745.2,2994.8 795.0,3049.7 817.0,3067.8 767.1,3013.0"/>
<polygon points="795.0,3049.7 844.7,3097.6 866.6,3115.7 817.0,3067.8"/>
<polygon points="844.7,3097.6 894.3,3138.5 916.2,3156.6 866.6,3115.7"/>
<polygon points="894.3,3138.5 943.7,3172.5 965.6,3190.6 916.2,3156.6"/>
<polygon points="943.7,3172.5 992.9,3199.6 1014.8,3217.6 965.6,3190.6"/>
<polygon points="992.9,3199.6 1042.0,3219.7 1063.9,3237.7 1014.8,3217.6"/>
<polygon points="1042.0,3219.7 1091.0,3232.8 1112.9,3250.8 1063.9,3237.7"/>
<polygon points="1091.0,3232.8 1139.8,3239.0 1161.8,3256.9 1112.9,3250.8"/>
<polygon points="1139.8,3239.0 1188.5,3238.3 1210.5,3256.2 1161.8,3256.9"/>
<polygon points="1188.5,3238.3 1237.1,3230.6 1259.1,3248.5 1210.5,3256.2"/>
<polygon points="1237.1,3230.6 1285.6,3216.0 1307.5,3233.8 1259.1,3248.5"/>
<polygon points="1285.6,3216.0 1333.9,3194.5 1355.9,3212.3 1307.5,3233.8"/>
<polygon points="1333.9,3194.5 1382.1,3166.1 1404.1,3183.8 1355.9,3212.3"/>
<polygon points="1382.1,3166.1 1430.2,3130.8 1452.2,3148.5 1404.1,3183.8"/>
</g>
<text x="0" y="0" font-size="57" text-anchor="end" fill="#10101e" stroke="#10101e" stroke-width="1.1" stroke-linejoin="round" transform="translate(599.9 2848.7) scale(1.04 1)" xml:space="preserve" >28</text>
<text x="0" y="0" font-size="57" text-anchor="end" fill="#10101e" stroke="#10101e" stroke-width="1.1" stroke-linejoin="round" transform="translate(599.9 2949.0) scale(1.04 1)" xml:space="preserve" >26</text>
<text x="0" y="0" font-size="57" text-anchor="end" fill="#10101e" stroke="#10101e" stroke-width="1.1" stroke-linejoin="round" transform="translate(605.3 3049.3) scale(1.04 1)" xml:space="preserve" >24</text>
<text x="0" y="0" font-size="57" text-anchor="end" fill="#10101e" stroke="#10101e" stroke-width="1.1" stroke-linejoin="round" transform="translate(605.3 3145.0) scale(1.04 1)" xml:space="preserve" >22</text>
<text x="0" y="0" font-size="57" text-anchor="end" fill="#10101e" stroke="#10101e" stroke-width="1.1" stroke-linejoin="round" transform="translate(609.9 3242.0) scale(1.04 1)" xml:space="preserve" >20</text>
<text x="0" y="0" font-size="57" text-anchor="end" fill="#10101e" stroke="#10101e" stroke-width="1.1" stroke-linejoin="round" transform="translate(609.9 3343.4) scale(1.04 1)" xml:space="preserve" >18</text>
<text x="0" y="0" font-size="57" text-anchor="middle" fill="#10101e" stroke="#10101e" stroke-width="1.1" stroke-linejoin="round" transform="translate(674.7 3439.5) scale(0.94 1)" xml:space="preserve" >1.0</text>
<text x="0" y="0" font-size="57" text-anchor="middle" fill="#10101e" stroke="#10101e" stroke-width="1.1" stroke-linejoin="round" transform="translate(905.0 3476.0) scale(0.94 1)" xml:space="preserve" >1.5</text>
<text x="0" y="0" font-size="57" text-anchor="middle" fill="#10101e" stroke="#10101e" stroke-width="1.1" stroke-linejoin="round" transform="translate(1127.5 3512.0) scale(0.94 1)" xml:space="preserve" >2.0</text>
<text x="0" y="0" font-size="57" text-anchor="middle" fill="#10101e" stroke="#10101e" stroke-width="1.1" stroke-linejoin="round" transform="translate(1355.0 3549.0) scale(0.94 1)" xml:space="preserve" >2.5</text>
<text x="1595.0" y="3489.5" font-size="57" text-anchor="middle" fill="#10101e" stroke="#10101e" stroke-width="1.1" stroke-linejoin="round" xml:space="preserve" >25</text>
<text x="1696.0" y="3398.0" font-size="57" text-anchor="middle" fill="#10101e" stroke="#10101e" stroke-width="1.1" stroke-linejoin="round" xml:space="preserve" >35</text>
<text x="1888.5" y="3200.8" font-size="57" text-anchor="middle" fill="#10101e" stroke="#10101e" stroke-width="1.1" stroke-linejoin="round" xml:space="preserve" >55</text>
<text x="1764.0" y="3296.4" font-size="57" text-anchor="start" fill="#10101e" stroke="#10101e" stroke-width="1.1" stroke-linejoin="round" xml:space="preserve" >4</text>
<text x="0" y="0" font-size="60" text-anchor="start" fill="#0c0c0c" font-weight="bold" stroke="#0c0c0c" stroke-width="0.6" stroke-linejoin="round" transform="translate(23.0 3087.0) scale(0.954 1)" xml:space="preserve" >TSS content  (%)</text>
<text x="754.0" y="3599.0" font-size="58" text-anchor="start" fill="#0c0c0c" font-weight="bold" stroke="#0c0c0c" stroke-width="0.6" stroke-linejoin="round" xml:space="preserve" >Power (kW)</text>
<text x="0" y="0" font-size="60.5" text-anchor="start" fill="#0c0c0c" font-weight="bold" stroke="#0c0c0c" stroke-width="0.6" stroke-linejoin="round" transform="translate(1845.0 3316.0) scale(0.958 1)" xml:space="preserve" >Temperature  (°C)</text>
<text x="0" y="0" class="sf" font-size="68" text-anchor="middle" fill="#0c0c10" stroke="#0c0c10" stroke-width="0.9" stroke-linejoin="round" transform="translate(1457.0 3641.0) scale(1.02 1)" xml:space="preserve" >(c)(ii)</text>
</svg>
</body>
</html>
